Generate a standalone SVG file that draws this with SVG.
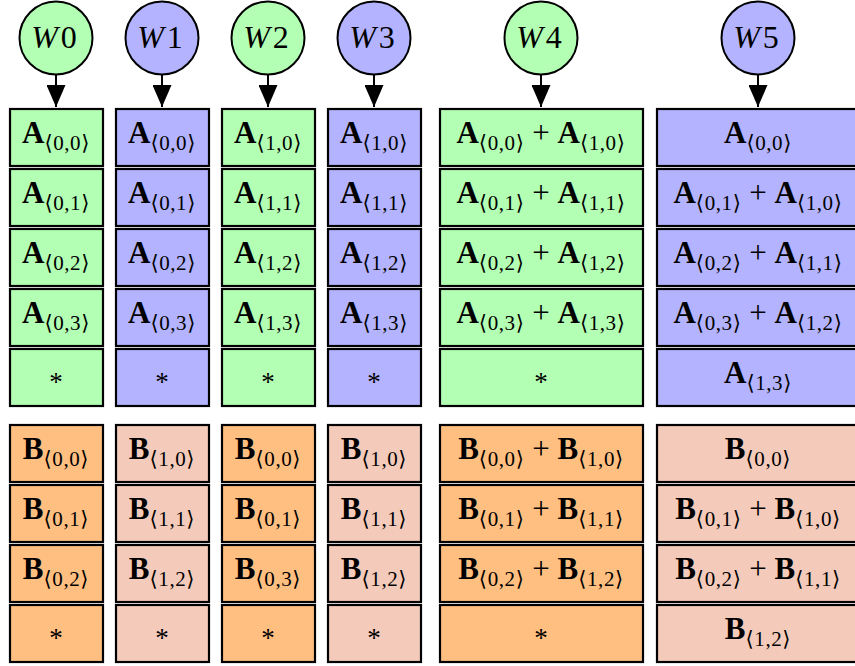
<svg xmlns="http://www.w3.org/2000/svg" width="855" height="666" viewBox="0 0 855 666">
<style>
.g{fill:#b3ffb3}.u{fill:#b3b3ff}.o{fill:#ffbf80}.p{fill:#f4cbbb}
rect{stroke:#000;stroke-width:2.2}
circle{stroke:#000;stroke-width:2}
text{font-family:"Liberation Serif","DejaVu Serif",serif;font-size:31px;fill:#000;text-anchor:middle}
.b{font-weight:bold}
.s{font-size:21px;letter-spacing:0.6px}
.w{font-size:32px}
.i{font-style:italic}
.ast{font-size:27px}
.c line{stroke:#000;stroke-width:2}
</style>
<defs>
<marker id="ah" viewBox="0 0 22 19" refX="22" refY="9.5" markerWidth="22" markerHeight="19" markerUnits="userSpaceOnUse" orient="auto">
<path d="M0,0 L22,9.5 L0,19 Z" fill="#000"/>
</marker>
</defs>

<g id="workers">
<g id="W0"><circle class="g" cx="56" cy="38" r="36.5"/><text class="w" x="54" y="48"><tspan class="i">W</tspan><tspan dx="3">0</tspan></text></g>
<g id="W1"><circle class="u" cx="162" cy="38" r="36.5"/><text class="w" x="160" y="48"><tspan class="i">W</tspan><tspan dx="3">1</tspan></text></g>
<g id="W2"><circle class="g" cx="268" cy="38" r="36.5"/><text class="w" x="266" y="48"><tspan class="i">W</tspan><tspan dx="3">2</tspan></text></g>
<g id="W3"><circle class="u" cx="374" cy="38" r="36.5"/><text class="w" x="372" y="48"><tspan class="i">W</tspan><tspan dx="3">3</tspan></text></g>
<g id="W4"><circle class="g" cx="541" cy="38" r="36.5"/><text class="w" x="539" y="48"><tspan class="i">W</tspan><tspan dx="3">4</tspan></text></g>
<g id="W5"><circle class="u" cx="758" cy="38" r="36.5"/><text class="w" x="756" y="48"><tspan class="i">W</tspan><tspan dx="3">5</tspan></text></g>
</g>

<g id="connectors" class="c">
<line x1="56" y1="74.5" x2="56" y2="107" marker-end="url(#ah)"/>
<line x1="162" y1="74.5" x2="162" y2="107" marker-end="url(#ah)"/>
<line x1="268" y1="74.5" x2="268" y2="107" marker-end="url(#ah)"/>
<line x1="374" y1="74.5" x2="374" y2="107" marker-end="url(#ah)"/>
<line x1="541" y1="74.5" x2="541" y2="107" marker-end="url(#ah)"/>
<line x1="758" y1="74.5" x2="758" y2="107" marker-end="url(#ah)"/>
</g>

<!-- A blocks -->
<g id="A-col0">
<g id="c0a0"><rect class="g" x="10" y="109" width="93" height="57"/><text x="56" y="143"><tspan class="b">A</tspan><tspan class="s" dy="7">⟨0,0⟩</tspan></text></g>
<g id="c0a1"><rect class="g" x="10" y="169" width="93" height="57"/><text x="56" y="203"><tspan class="b">A</tspan><tspan class="s" dy="7">⟨0,1⟩</tspan></text></g>
<g id="c0a2"><rect class="g" x="10" y="229" width="93" height="57"/><text x="56" y="263"><tspan class="b">A</tspan><tspan class="s" dy="7">⟨0,2⟩</tspan></text></g>
<g id="c0a3"><rect class="g" x="10" y="289" width="93" height="57"/><text x="56" y="323"><tspan class="b">A</tspan><tspan class="s" dy="7">⟨0,3⟩</tspan></text></g>
<g id="c0a4"><rect class="g" x="10" y="349" width="93" height="57"/><text class="ast" x="56" y="391">*</text></g>
</g>
<g id="A-col1">
<g id="c1a0"><rect class="u" x="116" y="109" width="93" height="57"/><text x="162" y="143"><tspan class="b">A</tspan><tspan class="s" dy="7">⟨0,0⟩</tspan></text></g>
<g id="c1a1"><rect class="u" x="116" y="169" width="93" height="57"/><text x="162" y="203"><tspan class="b">A</tspan><tspan class="s" dy="7">⟨0,1⟩</tspan></text></g>
<g id="c1a2"><rect class="u" x="116" y="229" width="93" height="57"/><text x="162" y="263"><tspan class="b">A</tspan><tspan class="s" dy="7">⟨0,2⟩</tspan></text></g>
<g id="c1a3"><rect class="u" x="116" y="289" width="93" height="57"/><text x="162" y="323"><tspan class="b">A</tspan><tspan class="s" dy="7">⟨0,3⟩</tspan></text></g>
<g id="c1a4"><rect class="u" x="116" y="349" width="93" height="57"/><text class="ast" x="162" y="391">*</text></g>
</g>
<g id="A-col2">
<g id="c2a0"><rect class="g" x="222" y="109" width="93" height="57"/><text x="268" y="143"><tspan class="b">A</tspan><tspan class="s" dy="7">⟨1,0⟩</tspan></text></g>
<g id="c2a1"><rect class="g" x="222" y="169" width="93" height="57"/><text x="268" y="203"><tspan class="b">A</tspan><tspan class="s" dy="7">⟨1,1⟩</tspan></text></g>
<g id="c2a2"><rect class="g" x="222" y="229" width="93" height="57"/><text x="268" y="263"><tspan class="b">A</tspan><tspan class="s" dy="7">⟨1,2⟩</tspan></text></g>
<g id="c2a3"><rect class="g" x="222" y="289" width="93" height="57"/><text x="268" y="323"><tspan class="b">A</tspan><tspan class="s" dy="7">⟨1,3⟩</tspan></text></g>
<g id="c2a4"><rect class="g" x="222" y="349" width="93" height="57"/><text class="ast" x="268" y="391">*</text></g>
</g>
<g id="A-col3">
<g id="c3a0"><rect class="u" x="328" y="109" width="93" height="57"/><text x="374" y="143"><tspan class="b">A</tspan><tspan class="s" dy="7">⟨1,0⟩</tspan></text></g>
<g id="c3a1"><rect class="u" x="328" y="169" width="93" height="57"/><text x="374" y="203"><tspan class="b">A</tspan><tspan class="s" dy="7">⟨1,1⟩</tspan></text></g>
<g id="c3a2"><rect class="u" x="328" y="229" width="93" height="57"/><text x="374" y="263"><tspan class="b">A</tspan><tspan class="s" dy="7">⟨1,2⟩</tspan></text></g>
<g id="c3a3"><rect class="u" x="328" y="289" width="93" height="57"/><text x="374" y="323"><tspan class="b">A</tspan><tspan class="s" dy="7">⟨1,3⟩</tspan></text></g>
<g id="c3a4"><rect class="u" x="328" y="349" width="93" height="57"/><text class="ast" x="374" y="391">*</text></g>
</g>
<g id="A-col4">
<g id="c4a0"><rect class="g" x="440" y="109" width="203" height="57"/><text x="541" y="143"><tspan class="b">A</tspan><tspan class="s" dy="7">⟨0,0⟩</tspan><tspan dy="-7"> + </tspan><tspan class="b">A</tspan><tspan class="s" dy="7">⟨1,0⟩</tspan></text></g>
<g id="c4a1"><rect class="g" x="440" y="169" width="203" height="57"/><text x="541" y="203"><tspan class="b">A</tspan><tspan class="s" dy="7">⟨0,1⟩</tspan><tspan dy="-7"> + </tspan><tspan class="b">A</tspan><tspan class="s" dy="7">⟨1,1⟩</tspan></text></g>
<g id="c4a2"><rect class="g" x="440" y="229" width="203" height="57"/><text x="541" y="263"><tspan class="b">A</tspan><tspan class="s" dy="7">⟨0,2⟩</tspan><tspan dy="-7"> + </tspan><tspan class="b">A</tspan><tspan class="s" dy="7">⟨1,2⟩</tspan></text></g>
<g id="c4a3"><rect class="g" x="440" y="289" width="203" height="57"/><text x="541" y="323"><tspan class="b">A</tspan><tspan class="s" dy="7">⟨0,3⟩</tspan><tspan dy="-7"> + </tspan><tspan class="b">A</tspan><tspan class="s" dy="7">⟨1,3⟩</tspan></text></g>
<g id="c4a4"><rect class="g" x="440" y="349" width="203" height="57"/><text class="ast" x="541" y="391">*</text></g>
</g>
<g id="A-col5">
<g id="c5a0"><rect class="u" x="657" y="109" width="204" height="57"/><text x="758" y="143"><tspan class="b">A</tspan><tspan class="s" dy="7">⟨0,0⟩</tspan></text></g>
<g id="c5a1"><rect class="u" x="657" y="169" width="204" height="57"/><text x="758" y="203"><tspan class="b">A</tspan><tspan class="s" dy="7">⟨0,1⟩</tspan><tspan dy="-7"> + </tspan><tspan class="b">A</tspan><tspan class="s" dy="7">⟨1,0⟩</tspan></text></g>
<g id="c5a2"><rect class="u" x="657" y="229" width="204" height="57"/><text x="758" y="263"><tspan class="b">A</tspan><tspan class="s" dy="7">⟨0,2⟩</tspan><tspan dy="-7"> + </tspan><tspan class="b">A</tspan><tspan class="s" dy="7">⟨1,1⟩</tspan></text></g>
<g id="c5a3"><rect class="u" x="657" y="289" width="204" height="57"/><text x="758" y="323"><tspan class="b">A</tspan><tspan class="s" dy="7">⟨0,3⟩</tspan><tspan dy="-7"> + </tspan><tspan class="b">A</tspan><tspan class="s" dy="7">⟨1,2⟩</tspan></text></g>
<g id="c5a4"><rect class="u" x="657" y="349" width="204" height="57"/><text x="758" y="383"><tspan class="b">A</tspan><tspan class="s" dy="7">⟨1,3⟩</tspan></text></g>
</g>

<!-- B blocks -->
<g id="B-col0">
<g id="c0b0"><rect class="o" x="10" y="425" width="93" height="57"/><text x="56" y="459"><tspan class="b">B</tspan><tspan class="s" dy="7">⟨0,0⟩</tspan></text></g>
<g id="c0b1"><rect class="o" x="10" y="485" width="93" height="57"/><text x="56" y="519"><tspan class="b">B</tspan><tspan class="s" dy="7">⟨0,1⟩</tspan></text></g>
<g id="c0b2"><rect class="o" x="10" y="545" width="93" height="57"/><text x="56" y="579"><tspan class="b">B</tspan><tspan class="s" dy="7">⟨0,2⟩</tspan></text></g>
<g id="c0b3"><rect class="o" x="10" y="605" width="93" height="57"/><text class="ast" x="56" y="647">*</text></g>
</g>
<g id="B-col1">
<g id="c1b0"><rect class="p" x="116" y="425" width="93" height="57"/><text x="162" y="459"><tspan class="b">B</tspan><tspan class="s" dy="7">⟨1,0⟩</tspan></text></g>
<g id="c1b1"><rect class="p" x="116" y="485" width="93" height="57"/><text x="162" y="519"><tspan class="b">B</tspan><tspan class="s" dy="7">⟨1,1⟩</tspan></text></g>
<g id="c1b2"><rect class="p" x="116" y="545" width="93" height="57"/><text x="162" y="579"><tspan class="b">B</tspan><tspan class="s" dy="7">⟨1,2⟩</tspan></text></g>
<g id="c1b3"><rect class="p" x="116" y="605" width="93" height="57"/><text class="ast" x="162" y="647">*</text></g>
</g>
<g id="B-col2">
<g id="c2b0"><rect class="o" x="222" y="425" width="93" height="57"/><text x="268" y="459"><tspan class="b">B</tspan><tspan class="s" dy="7">⟨0,0⟩</tspan></text></g>
<g id="c2b1"><rect class="o" x="222" y="485" width="93" height="57"/><text x="268" y="519"><tspan class="b">B</tspan><tspan class="s" dy="7">⟨0,1⟩</tspan></text></g>
<g id="c2b2"><rect class="o" x="222" y="545" width="93" height="57"/><text x="268" y="579"><tspan class="b">B</tspan><tspan class="s" dy="7">⟨0,3⟩</tspan></text></g>
<g id="c2b3"><rect class="o" x="222" y="605" width="93" height="57"/><text class="ast" x="268" y="647">*</text></g>
</g>
<g id="B-col3">
<g id="c3b0"><rect class="p" x="328" y="425" width="93" height="57"/><text x="374" y="459"><tspan class="b">B</tspan><tspan class="s" dy="7">⟨1,0⟩</tspan></text></g>
<g id="c3b1"><rect class="p" x="328" y="485" width="93" height="57"/><text x="374" y="519"><tspan class="b">B</tspan><tspan class="s" dy="7">⟨1,1⟩</tspan></text></g>
<g id="c3b2"><rect class="p" x="328" y="545" width="93" height="57"/><text x="374" y="579"><tspan class="b">B</tspan><tspan class="s" dy="7">⟨1,2⟩</tspan></text></g>
<g id="c3b3"><rect class="p" x="328" y="605" width="93" height="57"/><text class="ast" x="374" y="647">*</text></g>
</g>
<g id="B-col4">
<g id="c4b0"><rect class="o" x="440" y="425" width="203" height="57"/><text x="541" y="459"><tspan class="b">B</tspan><tspan class="s" dy="7">⟨0,0⟩</tspan><tspan dy="-7"> + </tspan><tspan class="b">B</tspan><tspan class="s" dy="7">⟨1,0⟩</tspan></text></g>
<g id="c4b1"><rect class="o" x="440" y="485" width="203" height="57"/><text x="541" y="519"><tspan class="b">B</tspan><tspan class="s" dy="7">⟨0,1⟩</tspan><tspan dy="-7"> + </tspan><tspan class="b">B</tspan><tspan class="s" dy="7">⟨1,1⟩</tspan></text></g>
<g id="c4b2"><rect class="o" x="440" y="545" width="203" height="57"/><text x="541" y="579"><tspan class="b">B</tspan><tspan class="s" dy="7">⟨0,2⟩</tspan><tspan dy="-7"> + </tspan><tspan class="b">B</tspan><tspan class="s" dy="7">⟨1,2⟩</tspan></text></g>
<g id="c4b3"><rect class="o" x="440" y="605" width="203" height="57"/><text class="ast" x="541" y="647">*</text></g>
</g>
<g id="B-col5">
<g id="c5b0"><rect class="p" x="657" y="425" width="204" height="57"/><text x="758" y="459"><tspan class="b">B</tspan><tspan class="s" dy="7">⟨0,0⟩</tspan></text></g>
<g id="c5b1"><rect class="p" x="657" y="485" width="204" height="57"/><text x="758" y="519"><tspan class="b">B</tspan><tspan class="s" dy="7">⟨0,1⟩</tspan><tspan dy="-7"> + </tspan><tspan class="b">B</tspan><tspan class="s" dy="7">⟨1,0⟩</tspan></text></g>
<g id="c5b2"><rect class="p" x="657" y="545" width="204" height="57"/><text x="758" y="579"><tspan class="b">B</tspan><tspan class="s" dy="7">⟨0,2⟩</tspan><tspan dy="-7"> + </tspan><tspan class="b">B</tspan><tspan class="s" dy="7">⟨1,1⟩</tspan></text></g>
<g id="c5b3"><rect class="p" x="657" y="605" width="204" height="57"/><text x="758" y="639"><tspan class="b">B</tspan><tspan class="s" dy="7">⟨1,2⟩</tspan></text></g>
</g>
</svg>
